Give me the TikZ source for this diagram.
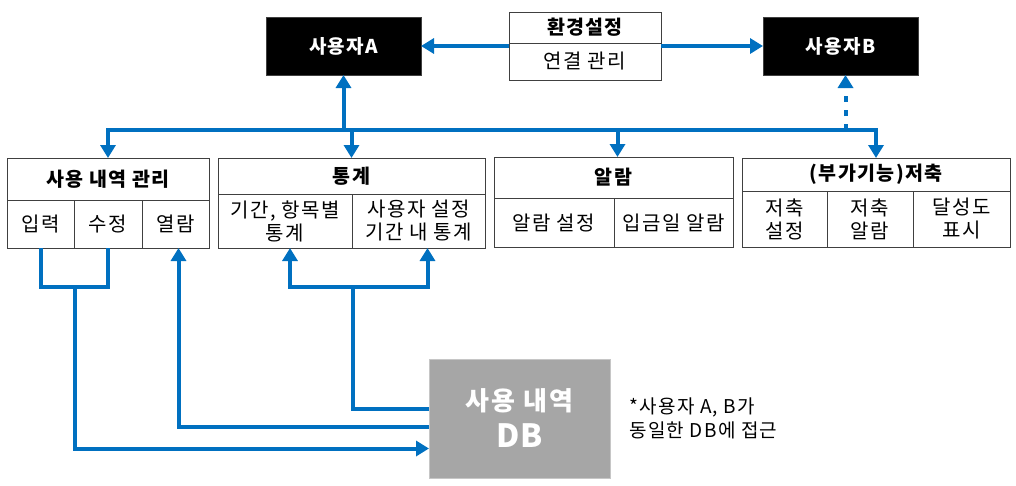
\documentclass[tikz,border=0pt]{standalone}
\usepackage{fontspec}
\setmainfont{Noto Sans CJK KR}[LetterSpace=7]
\newfontfamily\dbFont{Noto Sans CJK KR}
\usepackage{xcolor}
\usepackage{tikz}
\usetikzlibrary{positioning,calc,arrows.meta}
\definecolor{lineBlue}{HTML}{0070C0}
\definecolor{cellGray}{HTML}{404040}
\definecolor{dbGray}{HTML}{A6A6A6}
\tikzset{
  cellBox/.style={
    rectangle,
    draw=cellGray,
    line width=1pt,
    inner sep=0pt,
    outer sep=0pt,
    align=center,
    font=\fontsize{20}{23}\selectfont
  },
  titleBox/.style={
    cellBox,
    anchor=north west,
    font=\fontsize{19.5}{23}\selectfont\bfseries
  },
  userBox/.style={
    rectangle,
    draw=cellGray,
    fill=black,
    text=white,
    inner sep=0pt,
    outer sep=0pt,
    anchor=north west,
    minimum width=155pt,
    minimum height=58pt,
    font=\fontsize{19}{22}\selectfont\bfseries
  },
  dbBox/.style={
    rectangle,
    draw=gray!45,
    fill=dbGray,
    text=white,
    inner sep=0pt,
    outer sep=0pt,
    anchor=north west,
    minimum width=181pt,
    minimum height=119pt,
    align=center,
    font=\fontsize{26}{37}\selectfont\bfseries
  },
  arrowLine/.style={
    -{Triangle[length=13pt,width=15pt]},
    line width=4pt,
    draw=lineBlue
  },
  plainLine/.style={
    line width=4pt,
    draw=lineBlue
  }
}

\begin{document}
\begin{tikzpicture}[x=1pt,y=-1pt]
        \useasboundingbox (0,0) rectangle (1016,485);

        % users and settings
        \node[userBox] (userA) at (266,17) {사용자A};
        \node[userBox] (userB) at (763,17) {사용자B};
        \node[titleBox, minimum width=152pt, minimum height=31pt] (setT) at (509,12) {환경설정};
        \node[cellBox, below right=0pt and 0pt of setT.south west, minimum width=152pt, minimum height=37pt] (setS) {연결 관리};

        % function boxes
        \node[titleBox, minimum width=202pt, minimum height=42pt] (mgmtT) at (7,158) {사용 내역 관리};
        \node[cellBox, below right=0pt and 0pt of mgmtT.south west, minimum width=67pt, minimum height=48pt] (inp) {입력};
        \node[cellBox, right=0pt of inp, minimum width=68pt, minimum height=48pt] (edit) {수정};
        \node[cellBox, right=0pt of edit, minimum width=67pt, minimum height=48pt] (view) {열람};

        \node[titleBox, minimum width=267pt, minimum height=36pt] (statT) at (218,158) {통계};
        \node[cellBox, below right=0pt and 0pt of statT.south west, minimum width=134pt, minimum height=54pt] (statA) {기간, 항목별\\통계};
        \node[cellBox, right=0pt of statA, minimum width=133pt, minimum height=54pt] (statB) {사용자 설정\\기간 내 통계};

        \node[titleBox, minimum width=239pt, minimum height=41pt] (alarmT) at (494,157) {알람};
        \node[cellBox, below right=0pt and 0pt of alarmT.south west, minimum width=120pt, minimum height=49pt] (alarmA) {알람 설정};
        \node[cellBox, right=0pt of alarmA, minimum width=119pt, minimum height=49pt] (alarmB) {입금일 알람};

        \node[titleBox, minimum width=268pt, minimum height=33pt] (saveT) at (742,158) {(부가기능)저축};
        \node[cellBox, below right=0pt and 0pt of saveT.south west, minimum width=85pt, minimum height=56pt] (saveA) {저축\\설정};
        \node[cellBox, right=0pt of saveA, minimum width=86pt, minimum height=56pt] (saveB) {저축\\알람};
        \node[cellBox, right=0pt of saveB, minimum width=97pt, minimum height=56pt] (saveC) {달성도\\표시};

        % database
        \node[dbBox] (db) at (429,359) {사용 내역\\{\dbFont\fontsize{32}{37}\selectfont DB}};
        \node[right=19pt of db, align=left, inner sep=0pt, font=\fontsize{19}{24}\selectfont] (note) {*사용자 A, B가\\동일한 DB에 접근};

        % settings to users
        \draw[arrowLine] (setS.west |- userA.east) -- (userA.east);
        \draw[arrowLine] (setS.east |- userB.west) -- (userB.west);

        % bus between user and functions
        \coordinate (bus) at (0,130);
        \draw[arrowLine] (userA.south |- bus) -- (userA.south);
        \draw[arrowLine] (statT.north |- bus) -| (mgmtT.north);
        \draw[arrowLine] (statT.north |- bus) -- (statT.north);
        \draw[arrowLine] ([xshift=4pt]alarmT.north |- bus) -- ([xshift=4pt]alarmT.north);
        \draw[arrowLine] (statT.north |- bus) -| (saveT.north);
        \draw[arrowLine, dash pattern=on 6pt off 8pt] ([xshift=5pt]userB.south |- bus) -- ([xshift=5pt]userB.south);

        % database access
        \coordinate (mgmtJoin) at (75,287);
        \coordinate (statJoin) at (353,287);
        \draw[plainLine] (inp.south) |- (mgmtJoin) -| (edit.south);
        \draw[arrowLine] (mgmtJoin) |- ([yshift=-30pt]db.west);
        \draw[arrowLine] ([yshift=-8pt]db.west) -| ([xshift=3pt]view.south);
        \draw[plainLine] ([yshift=10pt]db.west) -| (statJoin);
        \draw[arrowLine] (statJoin) -| ([xshift=5pt]statA.south);
        \draw[arrowLine] (statJoin) -| ([xshift=9pt]statB.south);

    \end{tikzpicture}
\end{document}
